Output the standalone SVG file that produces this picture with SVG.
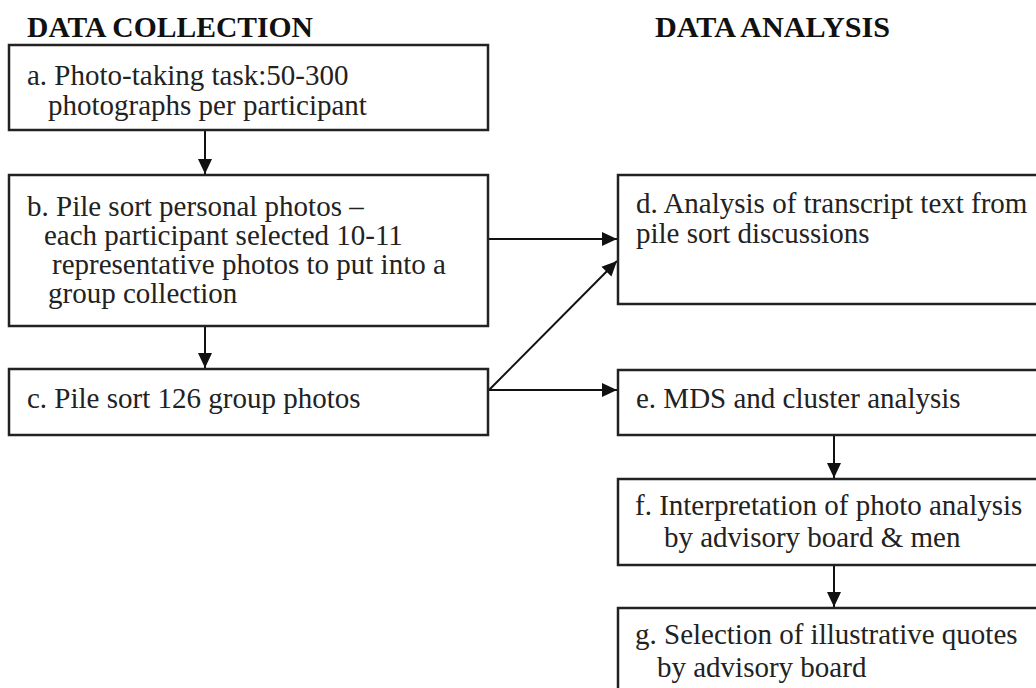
<svg xmlns="http://www.w3.org/2000/svg" width="1036" height="688" viewBox="0 0 1036 688">
<style>
.box{fill:#fff;stroke:#222;stroke-width:2.5}
.t{font-family:"Liberation Serif","Times New Roman",serif;font-size:29px;fill:#222}
.h{font-family:"Liberation Serif","Times New Roman",serif;font-size:29px;font-weight:bold;fill:#111}
.c{stroke:#111;stroke-width:2;fill:none;marker-end:url(#ah)}
</style>
<defs>
<marker id="ah" markerUnits="userSpaceOnUse" markerWidth="16" markerHeight="16" viewBox="0 0 16 16" refX="15" refY="8" orient="auto">
<path d="M0,1 L15,8 L0,15 Z" fill="#111"/>
</marker>
</defs>
<rect width="1036" height="688" fill="#fff"/>
<text class="h" x="27" y="37" textLength="286" lengthAdjust="spacingAndGlyphs">DATA COLLECTION</text>
<text class="h" x="655" y="37" textLength="235" lengthAdjust="spacingAndGlyphs">DATA ANALYSIS</text>
<g id="connectors">
<line class="c" x1="205" y1="131" x2="205" y2="174"/>
<line class="c" x1="205" y1="327" x2="205" y2="368"/>
<line class="c" x1="489" y1="239" x2="617" y2="239"/>
<line class="c" x1="489" y1="390" x2="617" y2="261"/>
<line class="c" x1="489" y1="390" x2="617" y2="390"/>
<line class="c" x1="834" y1="436" x2="834" y2="478"/>
<line class="c" x1="834" y1="566" x2="834" y2="607"/>
</g>
<g id="node-a">
<rect class="box" x="9" y="45" width="479" height="85"/>
<text class="t" x="27" y="85">a. Photo-taking task:50-300</text>
<text class="t" x="48" y="115">photographs per participant</text>
</g>
<g id="node-b">
<rect class="box" x="9" y="175" width="479" height="151"/>
<text class="t" x="27" y="216">b. Pile sort personal photos –</text>
<text class="t" x="44" y="245">each participant selected 10-11</text>
<text class="t" x="52" y="274">representative photos to put into a</text>
<text class="t" x="48" y="303">group collection</text>
</g>
<g id="node-c">
<rect class="box" x="9" y="369" width="479" height="66"/>
<text class="t" x="27" y="408">c. Pile sort 126 group photos</text>
</g>
<g id="node-d">
<rect class="box" x="618" y="175" width="440" height="129"/>
<text class="t" x="636" y="213">d. Analysis of transcript text from</text>
<text class="t" x="636" y="243">pile sort discussions</text>
</g>
<g id="node-e">
<rect class="box" x="618" y="370" width="440" height="65"/>
<text class="t" x="636" y="408">e. MDS and cluster analysis</text>
</g>
<g id="node-f">
<rect class="box" x="618" y="479" width="440" height="86"/>
<text class="t" x="635" y="515">f. Interpretation of photo analysis</text>
<text class="t" x="664" y="547">by advisory board &amp; men</text>
</g>
<g id="node-g">
<rect class="box" x="618" y="608" width="440" height="100"/>
<text class="t" x="635" y="644">g. Selection of illustrative quotes</text>
<text class="t" x="657" y="677">by advisory board</text>
</g>
</svg>
